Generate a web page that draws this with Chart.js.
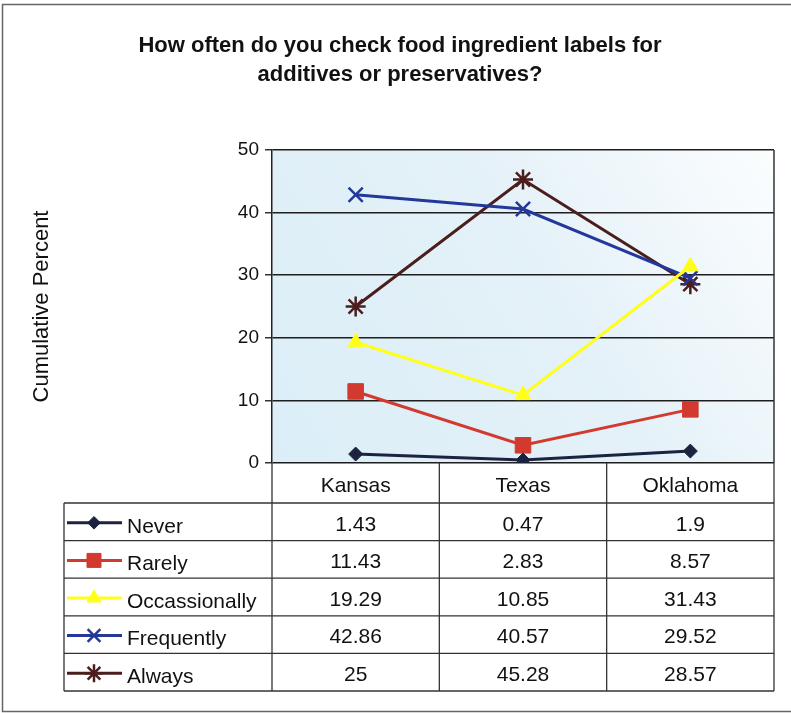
<!DOCTYPE html>
<html>
<head>
<meta charset="utf-8">
<script src="https://cdn.jsdelivr.net/npm/chart.js@4.4.1/dist/chart.umd.min.js"></script>
<style>
  html, body { margin: 0; padding: 0; background: #ffffff; }
  #wrap { width: 791px; height: 713px; }
</style>
</head>
<body>
<div id="wrap"><canvas id="c" width="791" height="713"></canvas></div>
<script>
const titleLines = ["How often do you check food ingredient labels for", "additives or preservatives?"];
const yAxisTitle = "Cumulative Percent";
const categories = ["Kansas", "Texas", "Oklahoma"];
const seriesNames = ["Never", "Rarely", "Occassionally", "Frequently", "Always"];
const never = [1.43, 0.47, 1.9];
const rarely = [11.43, 2.83, 8.57];
const occasionally = [19.29, 10.85, 31.43];
const frequently = [42.86, 40.57, 29.52];
const always = [25, 45.28, 28.57];
const tableLabels = [
  ["1.43", "0.47", "1.9"],
  ["11.43", "2.83", "8.57"],
  ["19.29", "10.85", "31.43"],
  ["42.86", "40.57", "29.52"],
  ["25", "45.28", "28.57"]
];
const yMin = 0, yMax = 50, yStep = 10;

const FONT = '"Liberation Sans", Arial, sans-serif';
const seriesValues = [never, rarely, occasionally, frequently, always];
const colors = ["#1c2340", "#d23a30", "#ffff1a", "#23389a", "#4b1e1e"];
const markers = ["rectRot", "rect", "triangle", "crossRot", "star"];
const radii = [7, 11, 9, 10, 10];

const datasets = seriesNames.map((name, i) => ({
  label: name,
  data: seriesValues[i],
  borderColor: colors[i],
  backgroundColor: colors[i],
  pointStyle: markers[i],
  pointRadius: radii[i],
  pointBorderWidth: (markers[i] === "crossRot" || markers[i] === "star") ? 2.5 : 1,
  pointBorderColor: colors[i],
  pointBackgroundColor: colors[i],
  borderWidth: 3,
  tension: 0,
  fill: false
}));

const decor = {
  id: 'decor',
  beforeDraw(chart) {
    const ctx = chart.ctx;
    const a = chart.chartArea;
    ctx.save();
    ctx.fillStyle = '#ffffff';
    ctx.fillRect(0, 0, chart.width, chart.height);
    ctx.strokeStyle = '#666';
    ctx.lineWidth = 1.5;
    ctx.strokeRect(2.5, 4.5, 820, 707);
    const g = ctx.createLinearGradient(a.left, a.bottom, a.right, a.top);
    g.addColorStop(0, '#dbeef7');
    g.addColorStop(0.55, '#e4f1f8');
    g.addColorStop(1, '#fbfdfe');
    ctx.fillStyle = g;
    ctx.fillRect(a.left, a.top, a.right - a.left, a.bottom - a.top);
    ctx.fillStyle = '#111';
    ctx.font = 'bold 22px ' + FONT;
    ctx.textAlign = 'center';
    ctx.textBaseline = 'middle';
    ctx.fillText(titleLines[0], 400, 46);
    ctx.fillText(titleLines[1], 400, 75);
    ctx.restore();
  },
  afterDraw(chart) {
    const ctx = chart.ctx;
    const a = chart.chartArea;
    const xs = chart.scales.x;
    ctx.save();
    ctx.strokeStyle = '#333';
    ctx.lineWidth = 1.5;
    ctx.beginPath();
    ctx.moveTo(a.right, a.top);
    ctx.lineTo(a.right, a.bottom);
    ctx.stroke();

    const colW = (xs.getPixelForValue(1) - xs.getPixelForValue(0));
    const tableLeft = 64;
    const headerTop = a.bottom;
    const headerBottom = a.bottom + 40;
    const rowH = 37.6;
    const tableBottom = headerBottom + rowH * seriesNames.length;
    ctx.strokeStyle = '#333';
    ctx.lineWidth = 1.3;
    for (let i = 0; i <= categories.length; i++) {
      const x = xs.getPixelForValue(0) - colW / 2 + i * colW;
      ctx.beginPath();
      ctx.moveTo(x, headerTop);
      ctx.lineTo(x, tableBottom);
      ctx.stroke();
    }
    ctx.beginPath();
    ctx.moveTo(tableLeft, headerBottom);
    ctx.lineTo(tableLeft, tableBottom);
    ctx.stroke();
    for (let r = 0; r <= seriesNames.length; r++) {
      const y = headerBottom + r * rowH;
      ctx.beginPath();
      ctx.moveTo(tableLeft, y);
      ctx.lineTo(a.right, y);
      ctx.stroke();
    }
    ctx.fillStyle = '#111';
    ctx.font = '21px ' + FONT;
    ctx.textBaseline = 'middle';
    ctx.textAlign = 'center';
    categories.forEach((c, i) => {
      ctx.fillText(c, xs.getPixelForValue(i), (headerTop + headerBottom) / 2 + 3);
    });
    const drawPt = (Chart.helpers && Chart.helpers.drawPoint) ? Chart.helpers.drawPoint : null;
    seriesNames.forEach((name, r) => {
      const cy = headerBottom + r * rowH + rowH / 2 + 3;
      ctx.fillStyle = '#111';
      ctx.textAlign = 'center';
      tableLabels[r].forEach((v, i) => {
        ctx.fillText(v, xs.getPixelForValue(i), cy);
      });
      const ky = cy - 2;
      ctx.strokeStyle = colors[r];
      ctx.fillStyle = colors[r];
      ctx.lineWidth = 3;
      ctx.beginPath();
      ctx.moveTo(67, ky);
      ctx.lineTo(122, ky);
      ctx.stroke();
      if (drawPt) {
        ctx.lineWidth = (markers[r] === "crossRot" || markers[r] === "star") ? 2.5 : 1;
        drawPt(ctx, {
          pointStyle: markers[r],
          radius: radii[r] * 0.9,
          rotation: 0,
          borderWidth: ctx.lineWidth
        }, 94, ky);
      }
      ctx.fillStyle = '#111';
      ctx.textAlign = 'left';
      ctx.fillText(name, 127, cy + 2);
    });
    ctx.restore();
  }
};

new Chart(document.getElementById('c'), {
  type: 'line',
  data: { labels: categories, datasets },
  plugins: [decor],
  options: {
    responsive: false,
    animation: false,
    layout: { padding: { top: 150, bottom: 250, left: 0, right: 17 } },
    plugins: { legend: { display: false }, tooltip: { enabled: false }, title: { display: false } },
    scales: {
      x: { display: false, offset: true },
      y: {
        min: yMin, max: yMax,
        ticks: { stepSize: yStep, color: '#111', font: { family: FONT, size: 19 }, padding: 6 },
        grid: { color: '#1e1e1e', lineWidth: 1.5, tickLength: 7, tickColor: '#333' },
        border: { color: '#222', width: 1.5 },
        title: { display: true, text: yAxisTitle, color: '#111', font: { family: FONT, size: 22 }, padding: { top: 29, bottom: 0 } },
        afterFit(scale) { scale.width = 272; }
      }
    }
  }
});
</script>
</body>
</html>
